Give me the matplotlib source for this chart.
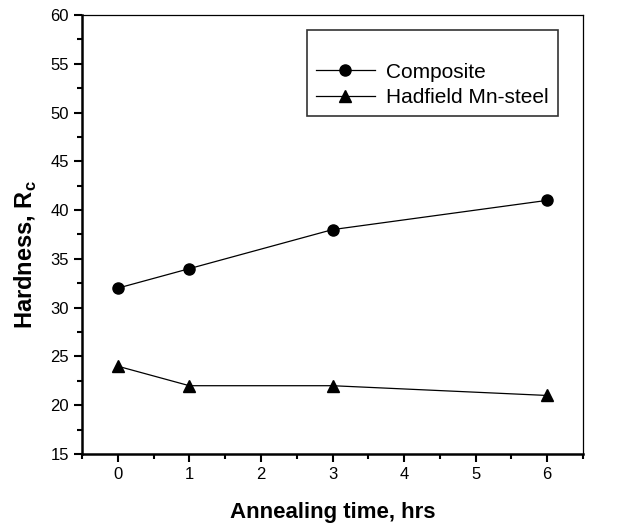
import matplotlib.pyplot as plt
from matplotlib.ticker import MultipleLocator

plt.rcParams['font.family'] = ['Liberation Sans', 'DejaVu Sans']

# dati
anneal_time = [0, 1, 3, 6]
composite = [32, 34, 38, 41]
hadfield = [24, 22, 22, 21]

fig = plt.figure(figsize=(6.21, 5.23), dpi=100)
ax = fig.add_axes([82/621, 1 - 454/523, 501/621, 439/523])

ax.plot(anneal_time, composite, color='black', lw=0.9, marker='o', ms=8, label='Composite')
ax.plot(anneal_time, hadfield, color='black', lw=0.9, marker='^', ms=8.5, label='Hadfield Mn-steel')

ax.set_xlim(-0.5, 6.5)
ax.set_ylim(15, 60)
ax.xaxis.set_major_locator(MultipleLocator(1))
ax.xaxis.set_minor_locator(MultipleLocator(0.5))
ax.yaxis.set_major_locator(MultipleLocator(5))
ax.yaxis.set_minor_locator(MultipleLocator(2.5))

ax.tick_params(which='major', direction='out', length=6, width=1.5, labelsize=12, top=False, right=False)
ax.tick_params(which='minor', direction='out', length=3.5, width=1.5, top=False, right=False)

ax.spines['left'].set_linewidth(1.8)
ax.spines['bottom'].set_linewidth(1.8)
ax.spines['top'].set_linewidth(0.9)
ax.spines['right'].set_linewidth(0.9)

ax.set_xlabel('Annealing time, hrs', fontsize=16, fontweight='bold', labelpad=14)
ax.set_ylabel(r'Hardness, R$_\mathregular{c}$', fontsize=17, fontweight='bold')
ax.yaxis.set_label_coords(-0.085, 0.455)

leg = ax.legend(loc='upper left', bbox_to_anchor=(0.449, 0.966), fontsize=15,
                title=' ', title_fontsize=14, frameon=True, fancybox=False,
                edgecolor='black', handlelength=2.8, handletextpad=0.55,
                borderpad=0.45, labelspacing=0.3, borderaxespad=0, alignment='left')
leg.get_frame().set_linewidth(1.2)

fig.savefig('out.png', dpi=100)
